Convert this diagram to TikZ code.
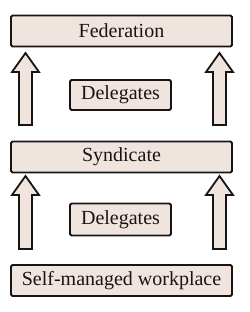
\documentclass[tikz,border=0pt]{standalone}
\usepackage{fontspec}
\setmainfont{Liberation Serif}
\definecolor{boxfill}{RGB}{240,228,222}
\definecolor{edge}{RGB}{25,20,20}
\begin{document}
\begin{tikzpicture}[x=1bp,y=-1bp,
  box/.style={draw=edge,fill=boxfill,line width=1.8bp,rounded corners=1.5bp,
    inner sep=0pt,font=\fontsize{20bp}{22bp}\selectfont,text=edge},
  uparrow/.style={draw=edge,fill=boxfill,line width=1.8bp,line join=miter}]
\useasboundingbox (0,0) rectangle (250,312);
\node[box,minimum width=221bp,minimum height=31bp] (fed) at (121.5,31) {Federation};
\node[box,minimum width=101bp,minimum height=30bp] (del1) at (120.5,95) {Delegates};
\node[box,minimum width=221bp,minimum height=31bp] (syn) at (121.5,157) {Syndicate};
\node[box,minimum width=101bp,minimum height=32bp] (del2) at (120.5,219.5) {Delegates};
\node[box,minimum width=221bp,minimum height=31bp] (self) at (121.5,280.5) {Self-managed workplace};
\foreach \cx in {25.5,219.5}{
  \draw[uparrow] (\cx,53) -- (\cx+13.5,72) -- (\cx+6.5,72) -- (\cx+6.5,125)
     -- (\cx-6.5,125) -- (\cx-6.5,72) -- (\cx-13.5,72) -- cycle;
  \draw[uparrow] (\cx,176) -- (\cx+13.5,195) -- (\cx+6.5,195) -- (\cx+6.5,249)
     -- (\cx-6.5,249) -- (\cx-6.5,195) -- (\cx-13.5,195) -- cycle;
}
\end{tikzpicture}
\end{document}
